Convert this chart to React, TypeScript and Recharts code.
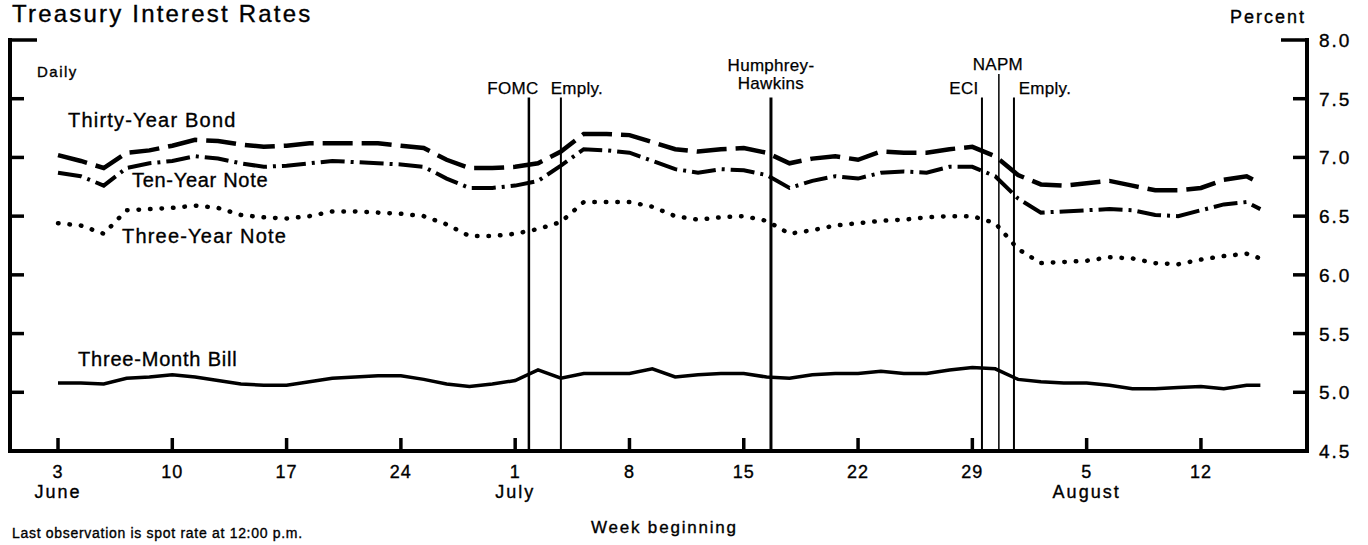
import React from 'react';
import { LineChart, Line, XAxis, YAxis, ReferenceLine } from 'recharts';

// x = business-day index, 0 = Monday 3 June
const days = [
  0, 1, 2, 3, 4, 5, 6, 7, 8, 9,
  10, 11, 12, 13, 14, 15, 16, 17, 18, 19,
  20, 21, 22, 23, 24, 25, 26, 27, 28, 29,
  30, 31, 32, 33, 34, 35, 36, 37, 38, 39,
  40, 41, 42, 43, 44, 45, 46, 47, 48, 49,
  50, 51, 52, 52.6,
];

const thirtyYearBond = [
  7.02, 6.97, 6.91, 7.04, 7.06, 7.10, 7.15, 7.14, 7.11, 7.09,
  7.10, 7.12, 7.12, 7.12, 7.12, 7.10, 7.08, 6.98, 6.91, 6.91,
  6.92, 6.95, 7.05, 7.20, 7.20, 7.19, 7.13, 7.07, 7.05, 7.07,
  7.08, 7.04, 6.95, 6.99, 7.01, 6.98, 7.05, 7.04, 7.04, 7.07,
  7.09, 7.01, 6.85, 6.77, 6.76, 6.78, 6.80, 6.76, 6.72, 6.72,
  6.74, 6.81, 6.84, 6.78,
];

const tenYearNote = [
  6.87, 6.84, 6.76, 6.91, 6.95, 6.97, 7.01, 6.99, 6.95, 6.92,
  6.93, 6.95, 6.97, 6.96, 6.95, 6.94, 6.92, 6.82, 6.74, 6.74,
  6.76, 6.80, 6.93, 7.07, 7.06, 7.04, 6.97, 6.90, 6.87, 6.90,
  6.89, 6.85, 6.74, 6.80, 6.84, 6.82, 6.87, 6.88, 6.87, 6.92,
  6.92, 6.84, 6.65, 6.53, 6.54, 6.55, 6.56, 6.55, 6.51, 6.50,
  6.55, 6.60, 6.62, 6.56,
];

const threeYearNote = [
  6.44, 6.42, 6.35, 6.55, 6.56, 6.57, 6.59, 6.57, 6.51, 6.49,
  6.48, 6.50, 6.54, 6.54, 6.53, 6.52, 6.50, 6.43, 6.33, 6.33,
  6.35, 6.39, 6.45, 6.62, 6.62, 6.62, 6.58, 6.50, 6.47, 6.49,
  6.50, 6.46, 6.35, 6.38, 6.42, 6.44, 6.46, 6.47, 6.49, 6.50,
  6.50, 6.44, 6.22, 6.10, 6.11, 6.12, 6.15, 6.14, 6.10, 6.09,
  6.13, 6.16, 6.18, 6.14,
];

const threeMonthBill = [
  5.08, 5.08, 5.07, 5.12, 5.13, 5.15, 5.13, 5.10, 5.07, 5.06,
  5.06, 5.09, 5.12, 5.13, 5.14, 5.14, 5.11, 5.07, 5.05, 5.07,
  5.10, 5.19, 5.12, 5.16, 5.16, 5.16, 5.20, 5.13, 5.15, 5.16,
  5.16, 5.13, 5.12, 5.15, 5.16, 5.16, 5.18, 5.16, 5.16, 5.19,
  5.21, 5.20, 5.11, 5.09, 5.08, 5.08, 5.06, 5.03, 5.03, 5.04,
  5.05, 5.03, 5.06, 5.06,
];

const xTicks = [0, 5, 10, 15, 20, 25, 30, 35, 40, 45, 50];
const xTickLabels = ['3', '10', '17', '24', '1', '8', '15', '22', '29', '5', '12'];
const monthTicks = [0, 20, 45];
const monthNames = ['June', 'July', 'August'];

const yTicks = [4.5, 5, 5.5, 6, 6.5, 7, 7.5, 8];
const yTickLabels = ['4.5', '5.0', '5.5', '6.0', '6.5', '7.0', '7.5', '8.0'];

const eventX = [20.6, 22.0, 31.19, 40.42, 41.16, 41.82];
const eventTop = [7.51, 7.51, 7.51, 7.51, 7.71, 7.51];
const eventLabels = [['FOMC'], ['Emply.'], ['Humphrey-', 'Hawkins'], ['ECI'], ['NAPM'], ['Emply.']];
const eventLabelDx = [-16, 16, 0, -18, -1, 31];
const eventLabelDy = [-4, -4, -9, -4, -4, -4];
const eventWidth = [2.5, 2, 3, 2, 1.5, 2];

const data = days.map((d, i) => ({
  day: d,
  bond: thirtyYearBond[i],
  ten: tenYearNote[i],
  three: threeYearNote[i],
  bill: threeMonthBill[i],
}));

const FONT = '"Liberation Sans", Arial, Helvetica, sans-serif';
const TEXT_STROKE = 0.35;

const XTick = (props: any) => {
  const { x, y, payload } = props;
  const i = xTicks.indexOf(payload.value);
  const m = monthTicks.indexOf(payload.value);
  return (
    <g>
      <line x1={x} x2={x} y1={y} y2={y - 13} stroke="#000" strokeWidth={3.5} />
      <text x={x} y={y + 27} textAnchor="middle" fontSize={18} fontFamily={FONT} letterSpacing={1} fill="#000" stroke="#000" strokeWidth={TEXT_STROKE}>
        {xTickLabels[i]}
      </text>
      {m >= 0 && (
        <text x={x} y={y + 47} textAnchor="middle" fontSize={18} fontFamily={FONT} letterSpacing={2} fill="#000" stroke="#000" strokeWidth={TEXT_STROKE}>
          {monthNames[m]}
        </text>
      )}
    </g>
  );
};

const LeftTick = (props: any) => {
  const { x, y, payload } = props;
  if (payload.value === 4.5) return <g />;
  const len = payload.value === 8 ? 27 : 14;
  return <line x1={x} x2={x + len} y1={y} y2={y} stroke="#000" strokeWidth={3.5} />;
};

const RightTick = (props: any) => {
  const { x, y, payload } = props;
  const idx = yTicks.indexOf(payload.value);
  const len = payload.value === 8 ? 26 : 14;
  return (
    <g>
      {payload.value !== 4.5 && <line x1={x} x2={x - len} y1={y} y2={y} stroke="#000" strokeWidth={3.5} />}
      <text x={x + 12} y={y + 7} fontSize={19} fontFamily={FONT} letterSpacing={2} fill="#000" stroke="#000" strokeWidth={TEXT_STROKE}>
        {yTickLabels[idx]}
      </text>
    </g>
  );
};

const makeEventLabel = (i: number) => (props: any) => {
  const vb = props.viewBox || {};
  const lines = eventLabels[i];
  const cx = vb.x + eventLabelDx[i];
  const baseY = vb.y + eventLabelDy[i] - (lines.length - 1) * 18;
  return (
    <text x={cx} y={baseY} textAnchor="middle" fontSize={17} fontFamily={FONT} letterSpacing={0.3} fill="#000" stroke="#000" strokeWidth={0.25}>
      {lines.map((l, k) => (
        <tspan key={k} x={cx} dy={k === 0 ? 0 : 18}>
          {l}
        </tspan>
      ))}
    </text>
  );
};

const txt = (s: string, x: number, y: number, size: number, ls: number, anchor: any = 'start') => (
  <text x={x} y={y} fontSize={size} fontFamily={FONT} letterSpacing={ls} textAnchor={anchor} fill="#000" stroke="#000" strokeWidth={TEXT_STROKE}>
    {s}
  </text>
);

export default function App() {
  return (
    <div style={{ position: 'absolute', left: 0, top: 0, width: 1368, height: 545, background: '#fff' }}>
      <LineChart
        width={1368}
        height={545}
        data={data}
        margin={{ top: 40, right: 60, bottom: 93, left: 9 }}
      >
        <XAxis
          dataKey="day"
          type="number"
          domain={[-2.1, 54.64]}
          allowDataOverflow
          ticks={xTicks}
          interval={0}
          height={1}
          tickSize={0}
          tickMargin={0}
          tickLine={false}
          tick={<XTick />}
          axisLine={{ stroke: '#000', strokeWidth: 4, strokeLinecap: 'square' }}
        />
        <YAxis
          yAxisId="left"
          orientation="left"
          domain={[4.5, 8]}
          allowDataOverflow
          ticks={yTicks}
          interval={0}
          width={1}
          tickSize={0}
          tickMargin={0}
          tickLine={false}
          tick={<LeftTick />}
          axisLine={{ stroke: '#000', strokeWidth: 4, strokeLinecap: 'square' }}
        />
        <YAxis
          yAxisId="right"
          orientation="right"
          domain={[4.5, 8]}
          allowDataOverflow
          ticks={yTicks}
          interval={0}
          width={1}
          tickSize={0}
          tickMargin={0}
          tickLine={false}
          tick={<RightTick />}
          axisLine={{ stroke: '#000', strokeWidth: 4, strokeLinecap: 'square' }}
        />
        {eventX.map((ex, i) => (
          <ReferenceLine
            key={i}
            yAxisId="left"
            segment={[
              { x: ex, y: eventTop[i] },
              { x: ex, y: 4.5 },
            ]}
            stroke="#000"
            strokeWidth={eventWidth[i]}
            label={makeEventLabel(i)}
          />
        ))}
        <Line yAxisId="left" dataKey="bond" type="linear" stroke="#000" strokeWidth={4.5} strokeDasharray="30 9" dot={false} isAnimationActive={false} />
        <Line yAxisId="left" dataKey="ten" type="linear" stroke="#000" strokeWidth={4} strokeDasharray="24 6 3 6" dot={false} isAnimationActive={false} />
        <Line yAxisId="left" dataKey="three" type="linear" stroke="#000" strokeWidth={4.5} strokeLinecap="round" strokeDasharray="0.5 11" dot={false} isAnimationActive={false} />
        <Line yAxisId="right" dataKey="bill" type="linear" stroke="#000" strokeWidth={3.5} dot={false} isAnimationActive={false} />
      </LineChart>
      <svg width={1368} height={545} style={{ position: 'absolute', left: 0, top: 0, pointerEvents: 'none' }}>
        {txt('Treasury Interest Rates', 12, 22, 24, 2.2)}
        {txt('Percent', 1230, 23, 18, 2)}
        {txt('Daily', 37, 77, 15, 1.5)}
        {txt('Thirty-Year Bond', 68, 127, 20, 1.2)}
        {txt('Ten-Year Note', 132, 187, 20, 0.7)}
        {txt('Three-Year Note', 122, 243, 20, 1.2)}
        {txt('Three-Month Bill', 78, 366, 20, 0.8)}
        {txt('Week beginning', 591, 533, 17, 1.8)}
        {txt('Last observation is spot rate at 12:00 p.m.', 12, 538, 14, 0.7)}
      </svg>
    </div>
  );
}
